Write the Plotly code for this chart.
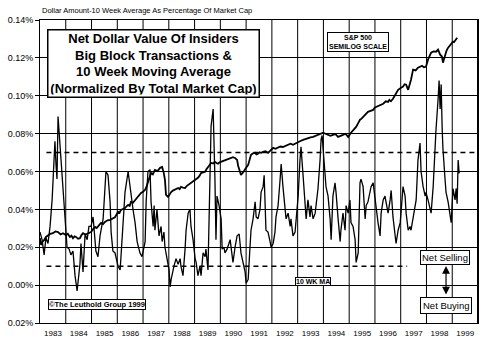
import plotly.graph_objects as go

# Insider big-block net dollar value, 10-week moving average (% of market cap)
INSIDER_YEAR = [
    1983.00, 1983.08, 1983.16, 1983.23, 1983.31, 1983.39, 1983.47, 1983.54, 1983.58, 1983.62,
    1983.66, 1983.70, 1983.78, 1983.82, 1983.89, 1983.97, 1984.05, 1984.13, 1984.20, 1984.28,
    1984.36, 1984.44, 1984.51, 1984.55, 1984.59, 1984.67, 1984.75, 1984.83, 1984.90, 1984.98,
    1985.06, 1985.14, 1985.17, 1985.25, 1985.33, 1985.45, 1985.52, 1985.56, 1985.64, 1985.72,
    1985.76, 1985.83, 1985.91, 1986.03, 1986.11, 1986.22, 1986.30, 1986.42, 1986.49, 1986.61,
    1986.69, 1986.77, 1986.88, 1986.96, 1987.08, 1987.12, 1987.19, 1987.27, 1987.31, 1987.39,
    1987.43, 1987.46, 1987.54, 1987.62, 1987.70, 1987.74, 1987.81, 1987.85, 1987.93, 1988.01,
    1988.05, 1988.09, 1988.20, 1988.28, 1988.36, 1988.44, 1988.47, 1988.55, 1988.63, 1988.67,
    1988.75, 1988.82, 1988.86, 1988.94, 1989.02, 1989.06, 1989.13, 1989.21, 1989.25, 1989.33,
    1989.41, 1989.44, 1989.52, 1989.60, 1989.64, 1989.72, 1989.76, 1989.79, 1989.83, 1989.87,
    1989.95, 1990.03, 1990.07, 1990.14, 1990.18, 1990.26, 1990.38, 1990.42, 1990.49, 1990.57,
    1990.65, 1990.73, 1990.80, 1990.88, 1990.96, 1991.00, 1991.08, 1991.15, 1991.19, 1991.27,
    1991.35, 1991.39, 1991.46, 1991.54, 1991.58, 1991.66, 1991.70, 1991.77, 1991.85, 1991.93,
    1991.97, 1992.05, 1992.12, 1992.16, 1992.24, 1992.32, 1992.36, 1992.43, 1992.51, 1992.55,
    1992.63, 1992.71, 1992.74, 1992.82, 1992.90, 1992.94, 1993.02, 1993.09, 1993.13, 1993.21,
    1993.29, 1993.33, 1993.40, 1993.48, 1993.52, 1993.60, 1993.68, 1993.71, 1993.79, 1993.87,
    1993.91, 1993.95, 1994.02, 1994.10, 1994.18, 1994.26, 1994.30, 1994.37, 1994.45, 1994.49,
    1994.57, 1994.65, 1994.68, 1994.76, 1994.84, 1994.88, 1994.96, 1995.03, 1995.07, 1995.15,
    1995.23, 1995.27, 1995.35, 1995.42, 1995.46, 1995.54, 1995.62, 1995.66, 1995.73, 1995.85,
    1995.93, 1996.00, 1996.04, 1996.12, 1996.20, 1996.24, 1996.32, 1996.39, 1996.43, 1996.51,
    1996.59, 1996.63, 1996.70, 1996.78, 1996.82, 1996.90, 1996.98, 1997.01, 1997.09, 1997.17,
    1997.21, 1997.29, 1997.36, 1997.40, 1997.48, 1997.56, 1997.60, 1997.67, 1997.75, 1997.79,
    1997.87, 1997.95, 1997.98, 1998.06, 1998.14, 1998.18, 1998.26, 1998.33, 1998.37, 1998.45,
    1998.49, 1998.53, 1998.57, 1998.61, 1998.64, 1998.72, 1998.76, 1998.84, 1998.92, 1998.96,
    1999.03, 1999.11, 1999.15, 1999.19, 1999.23, 1999.27,
]
INSIDER_PCT = [
    0.028, 0.024, 0.016, 0.025, 0.022, 0.031, 0.045, 0.067, 0.076, 0.064,
    0.056, 0.089, 0.072, 0.064, 0.048, 0.037, 0.020, 0.019, 0.016, 0.018,
    0.005, -0.003, 0.006, 0.011, 0.022, 0.007, 0.027, 0.024, 0.031, 0.031,
    0.036, 0.022, 0.018, 0.015, 0.026, 0.035, 0.056, 0.060, 0.058, 0.044,
    0.028, 0.018, 0.017, 0.010, 0.008, 0.035, 0.049, 0.060, 0.052, 0.040,
    0.033, 0.023, 0.017, 0.015, 0.023, 0.044, 0.060, 0.061, 0.044, 0.031,
    0.042, 0.029, 0.040, 0.026, 0.031, 0.023, 0.028, 0.020, 0.014, 0.008,
    -0.001, 0.003, 0.010, 0.014, 0.011, 0.014, 0.010, 0.005, 0.019, 0.029,
    0.038, 0.040, 0.031, 0.024, 0.014, 0.012, 0.005, 0.010, 0.005, 0.017,
    0.015, 0.019, 0.008, 0.052, 0.084, 0.093, 0.077, 0.056, 0.024, 0.047,
    0.042, 0.035, 0.019, 0.020, 0.017, 0.019, 0.024, 0.020, 0.012, 0.020,
    0.026, 0.027, 0.017, 0.012, 0.007, 0.001, 0.003, 0.020, 0.029, 0.035,
    0.044, 0.036, 0.035, 0.040, 0.049, 0.052, 0.058, 0.029, 0.028, 0.023,
    0.020, 0.022, 0.028, 0.036, 0.042, 0.056, 0.064, 0.052, 0.040, 0.035,
    0.038, 0.031, 0.035, 0.026, 0.028, 0.035, 0.047, 0.066, 0.073, 0.058,
    0.042, 0.035, 0.045, 0.036, 0.042, 0.035, 0.038, 0.042, 0.051, 0.066,
    0.077, 0.079, 0.065, 0.052, 0.047, 0.035, 0.024, 0.047, 0.054, 0.049,
    0.035, 0.023, 0.029, 0.038, 0.029, 0.042, 0.038, 0.045, 0.033, 0.031,
    0.024, 0.012, 0.017, 0.054, 0.056, 0.052, 0.035, 0.042, 0.044, 0.052,
    0.054, 0.045, 0.042, 0.033, 0.026, 0.038, 0.045, 0.047, 0.044, 0.038,
    0.045, 0.050, 0.036, 0.028, 0.022, 0.029, 0.033, 0.038, 0.052, 0.047,
    0.038, 0.029, 0.031, 0.029, 0.035, 0.040, 0.045, 0.066, 0.075, 0.060,
    0.052, 0.047, 0.049, 0.045, 0.040, 0.038, 0.052, 0.073, 0.082, 0.098,
    0.108, 0.093, 0.106, 0.082, 0.072, 0.056, 0.049, 0.044, 0.035, 0.033,
    0.051, 0.045, 0.051, 0.043, 0.066, 0.059,
]

# S&P 500 index, plotted on a hidden semilog scale
SP500_YEAR = [
    1983.00, 1983.04, 1983.10, 1983.16, 1983.23, 1983.31, 1983.40, 1983.50, 1983.60, 1983.70,
    1983.80, 1983.89, 1984.01, 1984.08, 1984.16, 1984.22, 1984.28, 1984.34, 1984.40, 1984.48,
    1984.55, 1984.61, 1984.67, 1984.76, 1984.86, 1984.98, 1985.06, 1985.14, 1985.20, 1985.25,
    1985.31, 1985.37, 1985.45, 1985.52, 1985.62, 1985.72, 1985.81, 1985.91, 1986.03, 1986.09,
    1986.14, 1986.22, 1986.30, 1986.36, 1986.42, 1986.48, 1986.53, 1986.61, 1986.69, 1986.75,
    1986.80, 1986.86, 1986.92, 1987.00, 1987.08, 1987.14, 1987.19, 1987.25, 1987.31, 1987.38,
    1987.46, 1987.56, 1987.66, 1987.74, 1987.80, 1987.85, 1987.89, 1987.97, 1988.03, 1988.09,
    1988.16, 1988.24, 1988.30, 1988.36, 1988.42, 1988.47, 1988.55, 1988.63, 1988.69, 1988.75,
    1988.80, 1988.86, 1988.94, 1989.02, 1989.08, 1989.13, 1989.19, 1989.25, 1989.33, 1989.41,
    1989.46, 1989.52, 1989.58, 1989.64, 1989.72, 1989.79, 1989.85, 1989.91, 1989.97, 1990.03,
    1990.12, 1990.22, 1990.32, 1990.41, 1990.49, 1990.57, 1990.61, 1990.65, 1990.69, 1990.75,
    1990.80, 1990.88, 1990.96, 1991.02, 1991.08, 1991.14, 1991.19, 1991.27, 1991.35, 1991.40,
    1991.46, 1991.52, 1991.58, 1991.66, 1991.75, 1991.85, 1991.95, 1992.05, 1992.14, 1992.24,
    1992.33, 1992.43, 1992.53, 1992.63, 1992.72, 1992.82, 1992.92, 1993.02, 1993.11, 1993.21,
    1993.30, 1993.40, 1993.50, 1993.60, 1993.70, 1993.79, 1993.89, 1993.99, 1994.08, 1994.18,
    1994.27, 1994.37, 1994.47, 1994.57, 1994.66, 1994.76, 1994.86, 1994.96, 1995.07, 1995.17,
    1995.27, 1995.35, 1995.42, 1995.48, 1995.54, 1995.64, 1995.73, 1995.83, 1995.93, 1996.00,
    1996.08, 1996.20, 1996.32, 1996.42, 1996.51, 1996.56, 1996.62, 1996.70, 1996.80, 1996.90,
    1997.00, 1997.09, 1997.15, 1997.21, 1997.29, 1997.35, 1997.40, 1997.48, 1997.58, 1997.67,
    1997.75, 1997.83, 1997.90, 1997.98, 1998.06, 1998.12, 1998.18, 1998.27, 1998.37, 1998.45,
    1998.53, 1998.60, 1998.64, 1998.68, 1998.72, 1998.78, 1998.84, 1998.90, 1998.95, 1999.03,
    1999.07, 1999.11, 1999.15, 1999.19,
]
SP500_INDEX = [
    145, 135, 140, 142, 147, 150, 152, 153, 156, 155,
    151, 153, 150, 152, 147, 149, 145, 148, 147, 144,
    145, 150, 153, 151, 153, 155, 160, 164, 162, 164,
    168, 171, 169, 173, 176, 177, 180, 182, 193, 191,
    197, 199, 201, 205, 208, 206, 215, 213, 219, 223,
    227, 231, 237, 240, 245, 255, 267, 280, 294, 290,
    304, 300, 311, 314, 296, 273, 232, 227, 235, 239,
    243, 245, 248, 250, 247, 253, 251, 250, 255, 258,
    261, 264, 268, 273, 276, 279, 285, 294, 296, 298,
    306, 314, 320, 328, 326, 332, 328, 325, 330, 332,
    336, 339, 343, 346, 349, 346, 342, 339, 318, 298,
    288, 296, 304, 314, 321, 340, 358, 364, 366, 360,
    362, 368, 366, 370, 372, 366, 378, 386, 382, 386,
    392, 390, 395, 399, 404, 399, 406, 412, 416, 421,
    425, 430, 433, 435, 440, 445, 450, 455, 450, 445,
    440, 445, 448, 435, 441, 445, 450, 435, 455, 470,
    485, 505, 524, 530, 541, 556, 571, 577, 583, 598,
    603, 615, 623, 640, 636, 650, 640, 658, 690, 725,
    740, 750, 770, 766, 725, 760, 809, 902, 895, 921,
    930, 941, 925, 931, 1005, 1040, 1085, 1100, 1096, 1120,
    1061, 1040, 973, 1010, 1061, 1110, 1145, 1170, 1183, 1222,
    1215, 1235, 1250, 1276,
]

# Reference levels and axis labelling
SELL_LEVEL = 0.07
BUY_LEVEL = 0.01
SELL_LINE_SPAN = [1983.25, 1999.95]
BUY_LINE_SPAN = [1983.25, 1997.25]
Y_TICKS = [-0.02, 0.0, 0.02, 0.04, 0.06, 0.08, 0.10, 0.12, 0.14]
Y_TICK_TEXT = ["0.02%", "0.00%", "0.02%", "0.04%", "0.06%", "0.08%", "0.10%", "0.12%", "0.14%"]
YEARS = list(range(1983, 2000))

FONT = "Arial, Liberation Sans, Helvetica, sans-serif"

fig = go.Figure()

fig.add_trace(go.Scatter(
    x=SELL_LINE_SPAN, y=[SELL_LEVEL, SELL_LEVEL], mode="lines",
    line=dict(color="black", width=1.6, dash="5px,4px"), hoverinfo="skip",
))
fig.add_trace(go.Scatter(
    x=BUY_LINE_SPAN, y=[BUY_LEVEL, BUY_LEVEL], mode="lines",
    line=dict(color="black", width=1.6, dash="5px,4px"), hoverinfo="skip",
))
fig.add_trace(go.Scatter(
    x=INSIDER_YEAR, y=INSIDER_PCT, mode="lines", name="10 WK MA",
    line=dict(color="black", width=1.3),
))
fig.add_trace(go.Scatter(
    x=SP500_YEAR, y=SP500_INDEX, mode="lines", name="S&P 500", yaxis="y2",
    line=dict(color="black", width=1.8),
))

fig.update_layout(
    width=492, height=343,
    margin=dict(l=40, r=14, t=20, b=20),
    paper_bgcolor="white", plot_bgcolor="white",
    showlegend=False,
    font=dict(family=FONT, color="black"),
    xaxis=dict(
        range=[1983, 2000],
        tickmode="array",
        tickvals=YEARS,
        ticktext=[str(y) for y in YEARS],
        ticklabelshift=13,
        ticks="", showgrid=False, zeroline=False,
        showline=True, linecolor="black", linewidth=1, mirror=True,
        tickfont=dict(size=8, family=FONT),
        ticklabelstandoff=2,
        automargin=False,
    ),
    yaxis=dict(
        range=[-0.02, 0.14],
        tickmode="array", tickvals=Y_TICKS, ticktext=Y_TICK_TEXT,
        ticks="outside", ticklen=4, tickcolor="black",
        showgrid=True, gridcolor="black", gridwidth=1, zeroline=False,
        showline=True, linecolor="black", linewidth=1, mirror=True,
        tickfont=dict(size=9, family=FONT),
        automargin=False,
    ),
    yaxis2=dict(
        type="log", overlaying="y", range=[1.762, 3.189], visible=False,
    ),
)

# vertical year-boundary grid lines
for yr in YEARS[1:]:
    fig.add_shape(type="line", xref="x", yref="paper", x0=yr, x1=yr, y0=0, y1=1,
                  line=dict(color="black", width=1), layer="below")

# right-hand frame edge
fig.add_shape(type="line", xref="paper", yref="paper", x0=1, x1=1, y0=0, y1=1,
              line=dict(color="black", width=2))

fig.add_annotation(
    xref="paper", yref="paper", x=0.0, y=1.033, xanchor="left", yanchor="middle",
    text="Dollar Amount-10 Week Average As Percentage Of Market Cap",
    showarrow=False, font=dict(size=7.5, family=FONT),
)
fig.add_annotation(
    xref="paper", yref="paper", x=0.260, y=0.858, xanchor="center", yanchor="middle",
    text="Net Dollar Value Of Insiders<br>Big Block Transactions &amp;<br>"
         "10 Week Moving Average<br>(Normalized By Total Market Cap)",
    showarrow=False, font=dict(size=13, family=FONT, weight="bold"),
    bgcolor="white", bordercolor="black", borderwidth=1.5, borderpad=2,
    width=206, height=62,
)
fig.add_annotation(
    xref="paper", yref="paper", x=0.727, y=0.926, xanchor="center", yanchor="middle",
    text="S&amp;P 500<br>SEMILOG SCALE",
    showarrow=False, font=dict(size=7, family=FONT, weight="bold"),
    bgcolor="white", bordercolor="black", borderwidth=1, borderpad=1,
)
fig.add_annotation(
    xref="paper", yref="paper", x=0.624, y=0.137, xanchor="center", yanchor="middle",
    text="10 WK MA",
    showarrow=False, font=dict(size=7, family=FONT, weight="bold"),
    bgcolor="white", bordercolor="black", borderwidth=1, borderpad=0,
)
fig.add_annotation(
    xref="paper", yref="paper", x=0.131, y=0.061, xanchor="center", yanchor="middle",
    text="©The Leuthold Group 1999",
    showarrow=False, font=dict(size=7.5, family=FONT, weight="bold"),
    bgcolor="white", bordercolor="black", borderwidth=1, borderpad=0,
)
fig.add_annotation(
    xref="paper", yref="paper", x=0.924, y=0.215, xanchor="center", yanchor="middle",
    text="Net Selling",
    showarrow=False, font=dict(size=9.5, family=FONT),
    bgcolor="white", bordercolor="black", borderwidth=1, borderpad=1,
)
fig.add_annotation(
    xref="paper", yref="paper", x=0.926, y=0.059, xanchor="center", yanchor="middle",
    text="Net Buying",
    showarrow=False, font=dict(size=9.5, family=FONT),
    bgcolor="white", bordercolor="black", borderwidth=1, borderpad=2,
)
# double-headed arrow between the two labels
fig.add_annotation(
    xref="paper", yref="paper", x=0.927, y=0.188, text="",
    showarrow=True, axref="pixel", ayref="pixel", ax=0, ay=30,
    arrowside="end+start", arrowhead=2, arrowsize=1.3, arrowwidth=1.2, arrowcolor="black",
)

fig.write_html("out.html")
